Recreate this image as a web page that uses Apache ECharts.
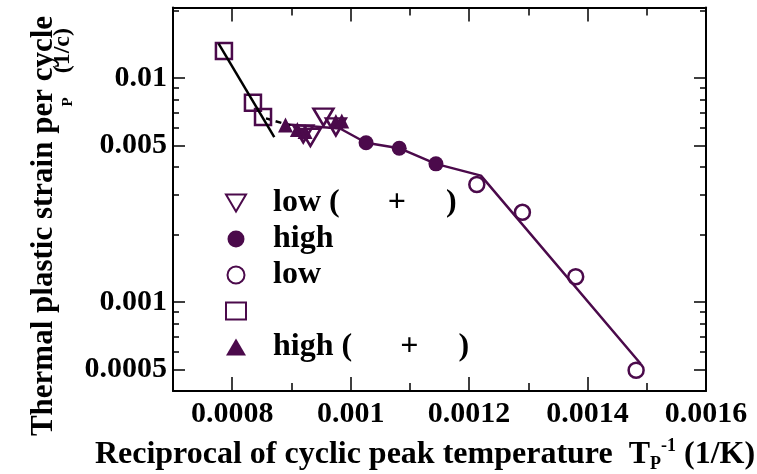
<!DOCTYPE html>
<html><head><meta charset="utf-8">
<script src="https://cdn.jsdelivr.net/npm/echarts@6/dist/echarts.min.js"></script>
<style>html,body{margin:0;padding:0;background:#fff}#c{width:757px;height:474px}</style>
</head><body><div id="c"></div>
<script>
// ---- tick values / labels ----
const xTickValues = [0.0008, 0.001, 0.0012, 0.0014, 0.0016];
const xTickLabels = ['0.0008', '0.001', '0.0012', '0.0014', '0.0016'];
const xMinorTicks = [0.0009, 0.0011, 0.0013, 0.0015];
const yTickValues = [0.0005, 0.001, 0.005, 0.01];
const yTickLabels = ['0.0005', '0.001', '0.005', '0.01'];
const yMinorTicks = [0.0006, 0.0007, 0.0008, 0.0009, 0.002, 0.003, 0.004, 0.006, 0.007, 0.008, 0.009, 0.02];

// ---- series names ----
const seriesNames = ['low (      +     )', 'high', 'low', ' ', 'high (      +     )'];

// ---- data ----
const lowPlusX = [0.00092, 0.000932, 0.000954, 0.000975];
const lowPlusY = [0.00562, 0.00542, 0.00668, 0.00604];
const highX = [0.001026, 0.001082, 0.001144];
const highY = [0.00513, 0.00485, 0.00413];
const lowX = [0.001213, 0.00129, 0.00138, 0.001482];
const lowY = [0.00334, 0.00251, 0.001294, 0.000495];
const squareX = [0.000786, 0.000835, 0.000852];
const squareY = [0.01318, 0.00774, 0.00668];
const highPlusX = [0.00089, 0.00091, 0.000923, 0.000975, 0.000985];
const highPlusY = [0.00616, 0.00588, 0.00576, 0.00639, 0.00642];
const purpleLineX = [0.000894, 0.000982, 0.001026, 0.001082, 0.001144, 0.00122, 0.00149];
const purpleLineY = [0.00619, 0.00594, 0.00513, 0.00485, 0.00413, 0.00366, 0.000528];
const blackLineX = [0.000777, 0.000871];
const blackLineY = [0.01422, 0.00543];
const dashLineX = [0.000857, 0.000898];
const dashLineY = [0.00659, 0.00613];

const pairs = (xs, ys) => xs.map((x, i) => [x, ys[i]]);
const PURPLE = '#4b0a4b';
const FONT = 'Liberation Serif';

function fmt(vals, labels) {
  return function (v) {
    for (let i = 0; i < vals.length; i++) {
      if (Math.abs(v - vals[i]) <= Math.abs(vals[i]) * 1e-4) return labels[i];
    }
    return '';
  };
}

const XMIN = 0.0007, XMAX = 0.0016, YMIN = 0.0004, YMAX = 0.0206;
const lineBlack = { show: true, lineStyle: { color: '#000', width: 2 } };

function xAx(pos, major, showLine) {
  return {
    type: 'value', min: XMIN, max: XMAX, position: pos,
    axisLine: showLine ? lineBlack : { show: false },
    axisTick: { show: true, inside: true, length: major ? 14 : 8,
      customValues: major ? xTickValues : xMinorTicks,
      lineStyle: { color: '#000', width: 1.5 } },
    axisLabel: (pos === 'bottom' && major) ? {
      show: true, customValues: xTickValues, formatter: fmt(xTickValues, xTickLabels),
      fontFamily: FONT, fontWeight: 'bold', fontSize: 30, color: '#000', margin: 8
    } : { show: false },
    splitLine: { show: false }
  };
}
function yAx(pos, major, showLine) {
  return {
    type: 'log', logBase: 10, min: YMIN, max: YMAX, position: pos,
    axisLine: showLine ? lineBlack : { show: false },
    axisTick: { show: true, inside: true, length: major ? 12 : 6,
      customValues: major ? yTickValues : yMinorTicks,
      lineStyle: { color: '#000', width: 1.5 } },
    axisLabel: (pos === 'left' && major) ? {
      show: true, customValues: yTickValues, formatter: fmt(yTickValues, yTickLabels),
      fontFamily: FONT, fontWeight: 'bold', fontSize: 30, color: '#000', margin: 6
    } : { show: false },
    splitLine: { show: false }
  };
}

const openStyle = { color: 'rgba(255,255,255,0)', borderColor: PURPLE, borderWidth: 2.5, opacity: 1 };
const fillStyle = { color: PURPLE, opacity: 1 };

const option = {
  animation: false,
  backgroundColor: '#fff',
  grid: { left: 173, right: 51, top: 7.5, bottom: 83, containLabel: false },
  xAxis: [xAx('bottom', true, true), xAx('bottom', false, false), xAx('top', true, true), xAx('top', false, false)],
  yAxis: [yAx('left', true, true), yAx('left', false, false), yAx('right', true, true), yAx('right', false, false)],
  legend: {
    orient: 'vertical', left: 220, top: 182, itemWidth: 20, itemHeight: 17, itemGap: 4,
    data: [
      { name: seriesNames[0], icon: 'path://M0,0L20,0L10,17Z' },
      { name: seriesNames[1] },
      { name: seriesNames[2] },
      { name: seriesNames[3] },
      { name: seriesNames[4] }
    ],
    textStyle: { fontFamily: FONT, fontWeight: 'bold', fontSize: 32, color: '#000', padding: [0, 0, 0, 22] },
    selectedMode: false
  },
  series: [
    { type: 'line', data: pairs(purpleLineX, purpleLineY), showSymbol: false, symbol: 'none',
      lineStyle: { color: PURPLE, width: 2.5 }, z: 1, silent: true },
    { type: 'line', data: pairs(blackLineX, blackLineY), showSymbol: false, symbol: 'none',
      lineStyle: { color: '#000', width: 2.5 }, z: 3, silent: true },
    { type: 'line', data: pairs(dashLineX, dashLineY), showSymbol: false, symbol: 'none',
      lineStyle: { color: '#000', width: 2.5, type: [6, 4] }, z: 1, silent: true },
    { name: seriesNames[4], type: 'scatter', data: pairs(highPlusX, highPlusY), symbol: 'triangle',
      symbolSize: 15, itemStyle: fillStyle, z: 2 },
    { name: seriesNames[0], type: 'scatter', data: pairs(lowPlusX, lowPlusY), symbol: 'triangle',
      symbolRotate: 180, symbolSize: [20, 17], itemStyle: openStyle, z: 2 },
    { name: seriesNames[1], type: 'scatter', data: pairs(highX, highY), symbol: 'circle',
      symbolSize: 15, itemStyle: fillStyle, z: 2 },
    { name: seriesNames[2], type: 'scatter', data: pairs(lowX, lowY), symbol: 'circle',
      symbolSize: 15, itemStyle: openStyle, z: 2 },
    { name: seriesNames[3], type: 'scatter', data: pairs(squareX, squareY), symbol: 'rect',
      symbolSize: 16, itemStyle: openStyle, z: 2 }
  ],
  graphic: [
    { type: 'text', x: 44, y: 226, rotation: Math.PI / 2,
      style: { text: 'Thermal plastic strain per cycle', fontFamily: FONT, fontWeight: 'bold',
        fontSize: 31, fill: '#000', align: 'center', verticalAlign: 'middle' } },
    { type: 'text', x: 63, y: 28, rotation: Math.PI / 2,
      style: { text: '{s|P}{a|    (1/c)}', align: 'right', verticalAlign: 'middle', fill: '#000',
        rich: {
          a: { fontFamily: FONT, fontWeight: 'bold', fontSize: 24, lineHeight: 26, fill: '#000' },
          s: { fontFamily: FONT, fontWeight: 'bold', fontSize: 15, lineHeight: 18, verticalAlign: 'bottom', fill: '#000' }
        } } },
    { type: 'text', x: 425, y: 455,
      style: { text: '{a|Reciprocal of cyclic peak temperature  T}{s|P}{u|-1}{a| (1/K)}',
        align: 'center', verticalAlign: 'middle', fill: '#000',
        rich: {
          a: { fontFamily: FONT, fontWeight: 'bold', fontSize: 32, lineHeight: 36, fill: '#000' },
          s: { fontFamily: FONT, fontWeight: 'bold', fontSize: 18, lineHeight: 21, verticalAlign: 'bottom', fill: '#000' },
          u: { fontFamily: FONT, fontWeight: 'bold', fontSize: 18, lineHeight: 8, verticalAlign: 'top', fill: '#000' }
        } } }
  ]
};

const chart = echarts.init(document.getElementById('c'), null, { renderer: 'canvas' });
chart.setOption(option);
</script></body></html>
